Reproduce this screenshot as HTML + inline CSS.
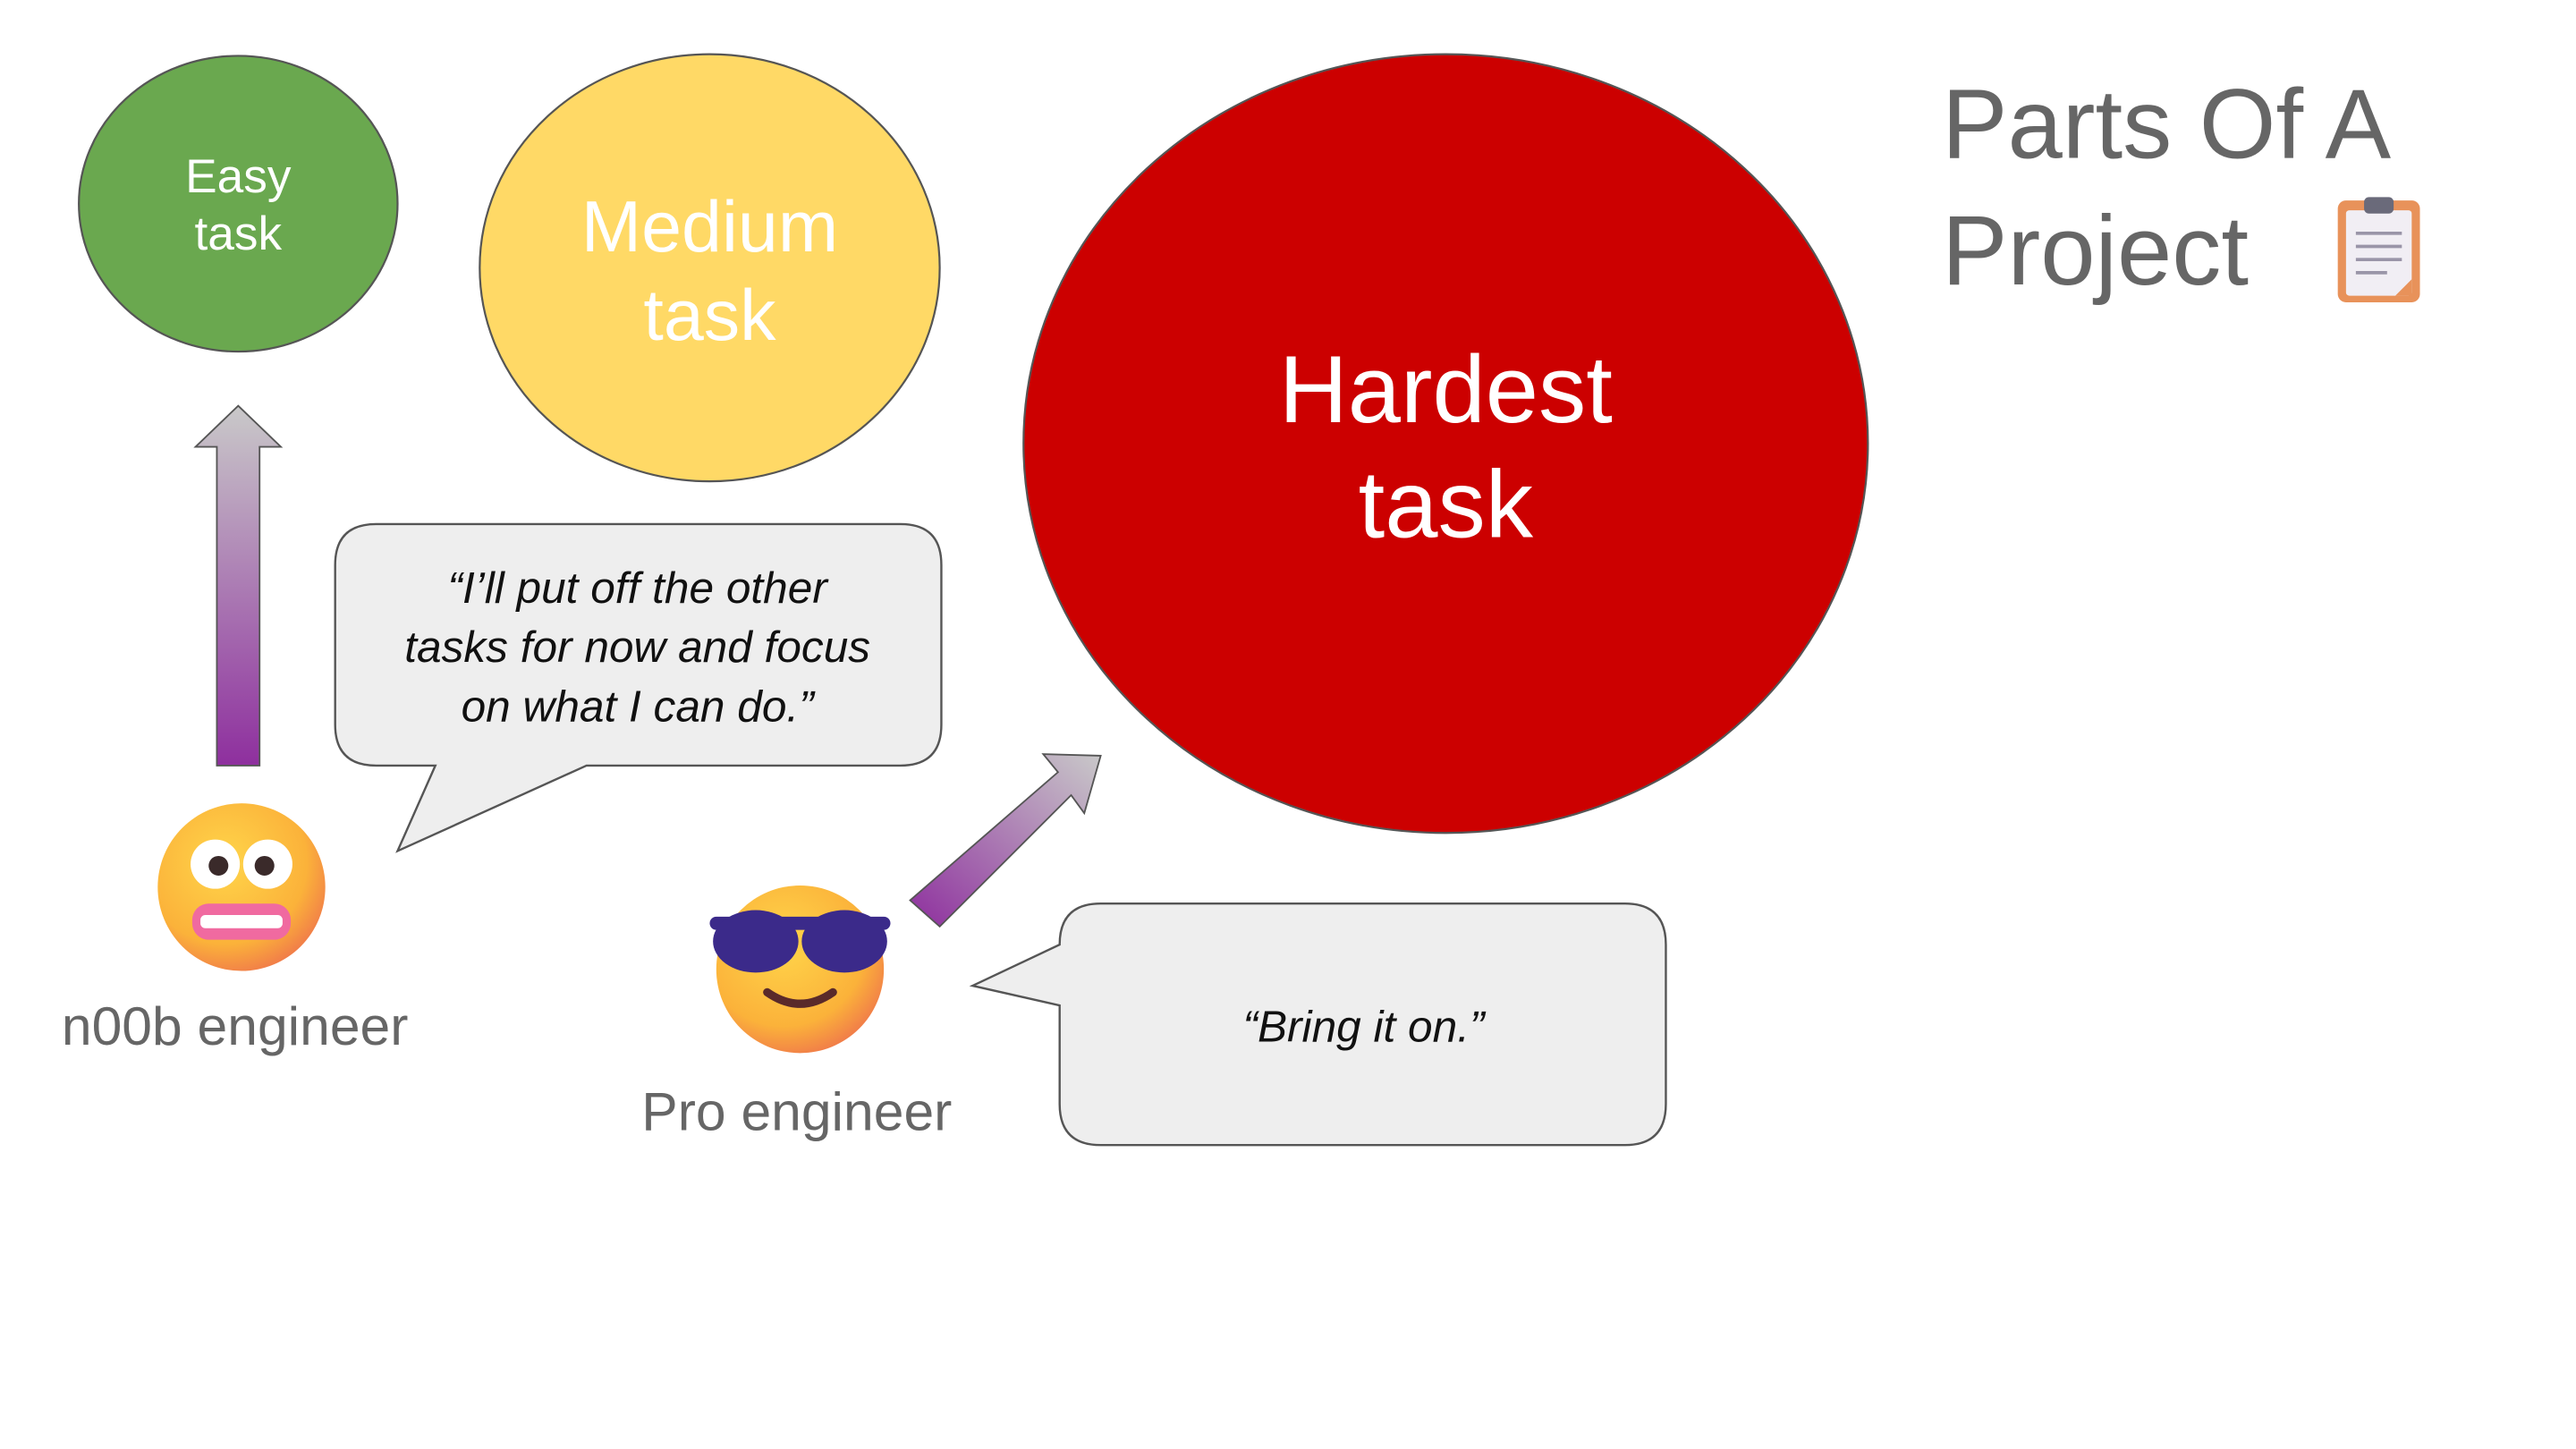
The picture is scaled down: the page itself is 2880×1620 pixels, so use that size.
<!DOCTYPE html>
<html><head><meta charset="utf-8"><style>
html,body{margin:0;padding:0;background:#fff;}
svg{display:block;}
text{font-family:"Liberation Sans",sans-serif;}
</style></head><body>
<svg width="2880" height="1620" viewBox="0 0 1568 882" xmlns="http://www.w3.org/2000/svg">
<defs>
<linearGradient id="ga" x1="0" y1="1" x2="0" y2="0"><stop offset="0" stop-color="#8e2f9e"/><stop offset="1" stop-color="#c9c9c9"/></linearGradient>
<linearGradient id="gb" x1="0" y1="1" x2="1" y2="0"><stop offset="0" stop-color="#8e2f9e"/><stop offset="1" stop-color="#c9c9c9"/></linearGradient>
<radialGradient id="face" cx="0.4" cy="0.35" r="0.7"><stop offset="0" stop-color="#ffd54a"/><stop offset="0.7" stop-color="#fbb23a"/><stop offset="1" stop-color="#f0784a"/></radialGradient>
</defs>
<ellipse cx="145" cy="124" rx="97" ry="90" fill="#6aa84f" stroke="#555" stroke-width="1.2"/>
<text x="145" y="117" font-size="29" fill="#fff" text-anchor="middle">Easy</text>
<text x="145" y="152" font-size="29" fill="#fff" text-anchor="middle">task</text>
<ellipse cx="432" cy="163" rx="140" ry="130" fill="#ffd966" stroke="#555" stroke-width="1.2"/>
<text x="432" y="153" font-size="44" fill="#fff" text-anchor="middle">Medium</text>
<text x="432" y="207" font-size="44" fill="#fff" text-anchor="middle">task</text>
<ellipse cx="880" cy="270" rx="257" ry="237" fill="#cc0000" stroke="#555" stroke-width="1.2"/>
<text x="880" y="257" font-size="58" fill="#fff" text-anchor="middle">Hardest</text>
<text x="880" y="327" font-size="58" fill="#fff" text-anchor="middle">task</text>
<text x="1182" y="96" font-size="60" fill="#666">Parts Of A</text>
<text x="1182" y="173" font-size="60" fill="#666">Project</text>
<g transform="translate(1423,120)">
<rect x="0" y="2" width="50" height="62" rx="5" fill="#e8925a"/>
<rect x="5" y="8" width="40" height="52" rx="2" fill="#f1eef4"/>
<polygon points="35,60 45,50 45,60" fill="#e8925a"/>
<rect x="16" y="0" width="18" height="10" rx="3" fill="#6a6a7a"/>
<g stroke="#9a95a8" stroke-width="2"><line x1="11" y1="22" x2="39" y2="22"/><line x1="11" y1="30" x2="39" y2="30"/><line x1="11" y1="38" x2="39" y2="38"/><line x1="11" y1="46" x2="30" y2="46"/></g>
</g>
<polygon points="132,466 158,466 158,272 171,272 145,247 119,272 132,272" fill="url(#ga)" stroke="#555" stroke-width="1"/>
<polygon points="554,548 572,564 652,484 660,495 670,460 635,459 644,470" fill="url(#gb)" stroke="#555" stroke-width="1"/>
<path d="M229,319 H548 Q573,319 573,344 V441 Q573,466 548,466 H357 L242,518 L265,466 H229 Q204,466 204,441 V344 Q204,319 229,319 Z" fill="#eeeeee" stroke="#555" stroke-width="1.3"/>
<g font-size="27" font-style="italic" fill="#111" text-anchor="middle">
<text x="388" y="367">“I’ll put off the other</text>
<text x="388" y="403">tasks for now and focus</text>
<text x="388" y="439">on what I can do.”</text>
</g>
<path d="M670,550 H989 Q1014,550 1014,575 V672 Q1014,697 989,697 H670 Q645,697 645,672 V612 L592,600 L645,575 Q645,550 670,550 Z" fill="#eeeeee" stroke="#555" stroke-width="1.3"/>
<text x="830" y="634" font-size="27" font-style="italic" fill="#111" text-anchor="middle">“Bring it on.”</text>
<g transform="translate(147,540)">
<circle r="51" fill="url(#face)"/>
<circle cx="-16" cy="-14" r="15" fill="#fff"/><circle cx="16" cy="-14" r="15" fill="#fff"/>
<circle cx="-14" cy="-13" r="6" fill="#3a2a2a"/><circle cx="14" cy="-13" r="6" fill="#3a2a2a"/>
<rect x="-30" y="10" width="60" height="22" rx="10" fill="#f06aa0"/>
<rect x="-25" y="17" width="50" height="8" rx="3" fill="#fff"/>
</g>
<text x="143" y="636" font-size="33" fill="#666" text-anchor="middle">n00b engineer</text>
<g transform="translate(487,590)">
<circle r="51" fill="url(#face)"/>
<rect x="-55" y="-32" width="110" height="8" rx="4" fill="#3b2a8a"/>
<ellipse cx="-27" cy="-17" rx="26" ry="19" fill="#3b2a8a"/>
<ellipse cx="27" cy="-17" rx="26" ry="19" fill="#3b2a8a"/>
<path d="M-20,14 Q0,28 20,14" stroke="#5a2a2a" stroke-width="5" fill="none" stroke-linecap="round"/>
</g>
<text x="485" y="688" font-size="33" fill="#666" text-anchor="middle">Pro engineer</text>
</svg>
</body></html>
